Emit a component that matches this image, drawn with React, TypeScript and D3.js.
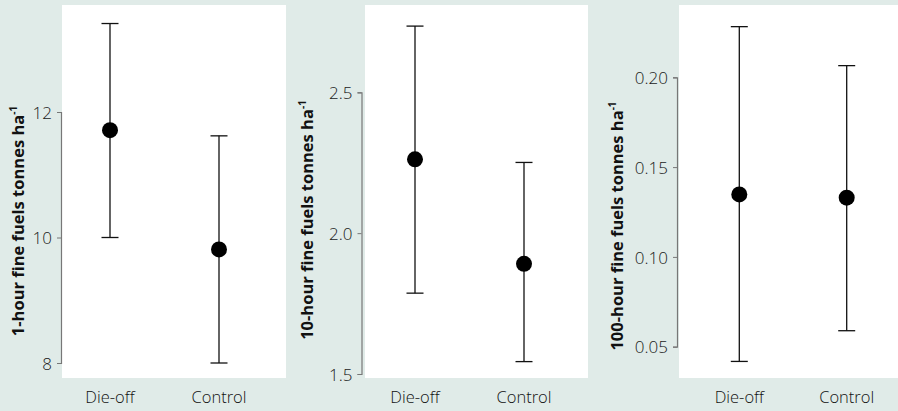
import React, { useEffect, useRef } from "react";
import * as d3 from "d3";

const groups = ["Die-off", "Control"];

// 1-hour fuels
const oneHourMean = [11.71, 9.81];
const oneHourLow = [10.0, 8.0];
const oneHourHigh = [13.41, 11.62];
const oneHourTicks = [8, 10, 12];

// 10-hour fuels
const tenHourMean = [2.262, 1.891];
const tenHourLow = [1.787, 1.544];
const tenHourHigh = [2.735, 2.251];
const tenHourTicks = [1.5, 2.0, 2.5];

// 100-hour fuels
const hundredHourMean = [0.1348, 0.133];
const hundredHourLow = [0.0418, 0.0589];
const hundredHourHigh = [0.2282, 0.2065];
const hundredHourTicks = [0.05, 0.1, 0.15, 0.2];

const W = 898;
const H = 411;
const FONT = "'Open Sans', 'Noto Sans', sans-serif";

const panels = [
  {
    title: "1-hour fine fuels tonnes ha",
    mean: oneHourMean, low: oneHourLow, high: oneHourHigh, ticks: oneHourTicks,
    fmt: d3.format("d"),
    rect: [62, 286], axisX: 61, yRange: [363, 112], xRange: [110, 219],
    titleX: 24, titleY: 221,
  },
  {
    title: "10-hour fine fuels tonnes ha",
    mean: tenHourMean, low: tenHourLow, high: tenHourHigh, ticks: tenHourTicks,
    fmt: d3.format(".1f"),
    rect: [365, 588], axisX: 361.5, yRange: [374, 92.3], xRange: [415, 524],
    titleX: 313, titleY: 220,
  },
  {
    title: "100-hour fine fuels tonnes ha",
    mean: hundredHourMean, low: hundredHourLow, high: hundredHourHigh, ticks: hundredHourTicks,
    fmt: d3.format(".2f"),
    rect: [679, 898], axisX: 677, yRange: [346.7, 77.3], xRange: [739.3, 846.7],
    titleX: 623, titleY: 226,
  },
];

const Panel = ({ p }) => {
  const axisRef = useRef(null);
  const y = d3
    .scaleLinear()
    .domain([p.ticks[0], p.ticks[p.ticks.length - 1]])
    .range(p.yRange);
  const x = d3.scalePoint().domain(groups).range(p.xRange);

  useEffect(() => {
    if (axisRef.current) {
      const g = d3.select(axisRef.current);
      g.call(d3.axisLeft(y).tickValues(p.ticks).tickFormat(p.fmt).tickSize(4).tickPadding(5));
      g.select(".domain").attr("stroke", "#777").attr("stroke-width", 1.2);
      g.selectAll(".tick line").attr("stroke", "#777");
      g.selectAll(".tick text")
        .attr("fill", "#1a1a1a")
        .attr("dy", "0.36em")
        .style("font-size", "17px")
        .style("font-weight", 300)
        .style("font-family", FONT);
    }
  }, [p]);

  return (
    <g>
      <rect x={p.rect[0]} y={5} width={p.rect[1] - p.rect[0]} height={373} fill="#fff" />
      <g ref={axisRef} transform={`translate(${p.axisX},0)`} />
      {groups.map((gName, i) => (
        <g key={gName}>
          <line x1={x(gName)} x2={x(gName)} y1={y(p.low[i])} y2={y(p.high[i])} stroke="#111" strokeWidth={1.3} />
          <line x1={x(gName) - 8.5} x2={x(gName) + 8.5} y1={y(p.low[i])} y2={y(p.low[i])} stroke="#111" strokeWidth={1.3} />
          <line x1={x(gName) - 8.5} x2={x(gName) + 8.5} y1={y(p.high[i])} y2={y(p.high[i])} stroke="#111" strokeWidth={1.3} />
          <circle cx={x(gName)} cy={y(p.mean[i])} r={8} fill="#000" />
          <text x={x(gName)} y={403} textAnchor="middle" fontSize={16.5} fontWeight={300} fill="#111"
            style={{ fontFamily: FONT }}>
            {gName}
          </text>
        </g>
      ))}
      <text
        transform={`translate(${p.titleX},${p.titleY}) rotate(-90)`}
        textAnchor="middle"
        fontSize={16.5}
        fontWeight="bold"
        fill="#111"
        style={{ fontFamily: FONT }}
      >
        {p.title}
        <tspan fontSize={10} dy={-7}>-1</tspan>
      </text>
    </g>
  );
};

export default function App() {
  return (
    <svg width={W} height={H} style={{ position: "absolute", left: 0, top: 0 }}>
      <rect x={0} y={0} width={W} height={H} fill="#e0ebe8" />
      {panels.map((p, i) => (
        <Panel key={i} p={p} />
      ))}
    </svg>
  );
}
